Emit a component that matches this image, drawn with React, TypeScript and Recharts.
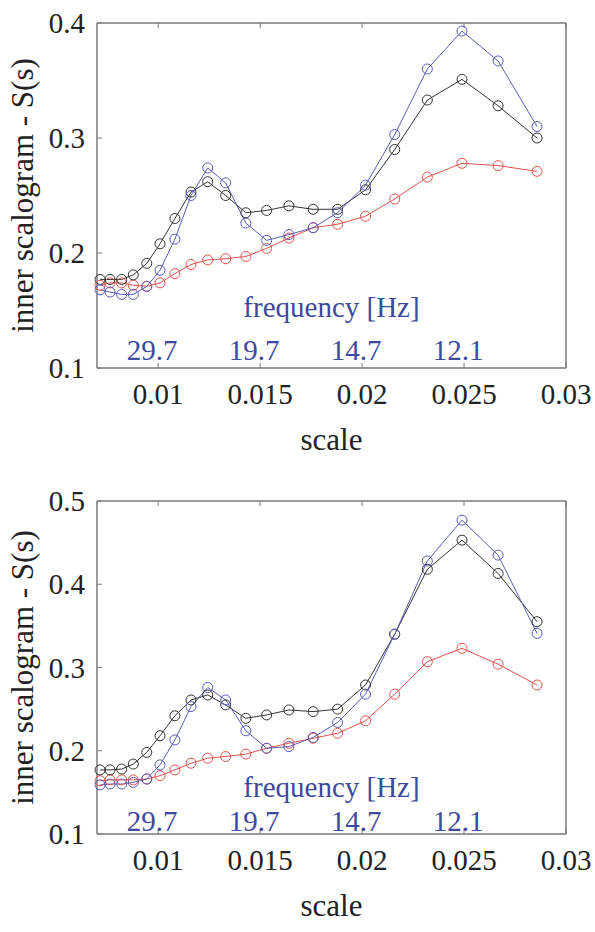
import React from "react"
import { LineChart, Line, XAxis, YAxis } from "recharts"

// scale values (x) shared by all curves
const scales = [
  0.00715, 0.00764, 0.00821, 0.00878, 0.00944, 0.01009, 0.01082, 0.01161, 0.01243, 0.01331, 0.0143,
  0.01532, 0.01641, 0.0176, 0.0188, 0.02017, 0.0216, 0.0232, 0.0249, 0.02667, 0.02858,
]

// top panel
const topBlack = [
  0.177, 0.177, 0.177, 0.181, 0.191, 0.208, 0.23, 0.253, 0.262, 0.25, 0.235,
  0.237, 0.241, 0.238, 0.238, 0.255, 0.29, 0.333, 0.351, 0.328, 0.3,
]
const topBlue = [
  0.168, 0.166, 0.164, 0.164, 0.171, 0.185, 0.212, 0.25, 0.274, 0.261, 0.226,
  0.211, 0.216, 0.222, 0.235, 0.259, 0.303, 0.36, 0.393, 0.367, 0.31,
]
const topRed = [
  0.172, 0.174, 0.174, 0.172, 0.171, 0.174, 0.182, 0.19, 0.194, 0.195, 0.197,
  0.204, 0.213, 0.222, 0.225, 0.232, 0.247, 0.266, 0.278, 0.276, 0.271,
]

// bottom panel
const botBlack = [
  0.177, 0.177, 0.178, 0.184, 0.198, 0.218, 0.242, 0.261, 0.267, 0.255, 0.239,
  0.243, 0.249, 0.247, 0.25, 0.279, 0.34, 0.418, 0.453, 0.413, 0.355,
]
const botBlue = [
  0.159, 0.16, 0.16, 0.162, 0.166, 0.183, 0.213, 0.253, 0.276, 0.261, 0.224,
  0.203, 0.205, 0.216, 0.234, 0.268, 0.34, 0.428, 0.477, 0.435, 0.341,
]
const botRed = [
  0.164, 0.165, 0.165, 0.165, 0.166, 0.17, 0.177, 0.185, 0.191, 0.193, 0.196,
  0.203, 0.209, 0.215, 0.221, 0.236, 0.268, 0.307, 0.323, 0.304, 0.279,
]

const xTicks = [0.01, 0.015, 0.02, 0.025, 0.03]
const xTickLabels = ["0.01", "0.015", "0.02", "0.025", "0.03"]
const freqLabels = ["29.7", "19.7", "14.7", "12.1", ""]
const topYTicks = [0.1, 0.2, 0.3, 0.4]
const botYTicks = [0.1, 0.2, 0.3, 0.4, 0.5]

const FONT = "Times New Roman, Liberation Serif, DejaVu Serif, serif"
const FRAME = "#7a7a7a"
const BLACK = "#333333"
const BLUE = "#5b5bb8"
const RED = "#e0524f"
const TEXT_BLUE = "#3e4a9e"

const W = 595
const H = 466
const LEFT = 97
const RIGHT = 29
const BOTTOM = 98

const build = (black: number[], blue: number[], red: number[]) =>
  scales.map((s, i) => ({ s, black: black[i], blue: blue[i], red: red[i] }))

const XTick = ({ x, y, index, freqY }: any) => (
  <g style={{ fontFamily: FONT }}>
    <text x={x} y={y + 36} textAnchor="middle" fontSize={29} fill="#222" style={{ fontFamily: FONT }}>
      {xTickLabels[index]}
    </text>
    {freqLabels[index] && (
      <text x={x - 6} y={y - freqY} textAnchor="middle" fontSize={29} fill={TEXT_BLUE} style={{ fontFamily: FONT }}>
        {freqLabels[index]}
      </text>
    )}
  </g>
)

const YTick = ({ x, y, payload }: any) => (
  <text x={x} y={y + 10} textAnchor="end" fontSize={29} fill="#222" style={{ fontFamily: FONT }}>
    {payload.value.toFixed(1)}
  </text>
)

type PanelProps = {
  top: number
  plotTop: number
  domainMax: number
  yTicks: number[]
  black: number[]
  blue: number[]
  red: number[]
  freqY: number
  freqTitleY: number
}

const Panel = ({ top, plotTop, domainMax, yTicks, black, blue, red, freqY, freqTitleY }: PanelProps) => {
  const data = build(black, blue, red)
  const plotBottom = H - BOTTOM
  return (
    <div style={{ position: "absolute", left: 0, top, width: W, height: H }}>
      <LineChart
        width={W}
        height={H}
        data={data}
        margin={{ top: plotTop - 1, right: RIGHT - 1, left: 0, bottom: 0 }}
        style={{ fontFamily: FONT }}
      >
        <XAxis
          dataKey="s"
          type="number"
          domain={[0.007, 0.03]}
          ticks={xTicks}
          height={BOTTOM}
          tickSize={-5}
          tickMargin={5}
          axisLine={{ stroke: FRAME, strokeWidth: 1.5 }}
          tickLine={{ stroke: FRAME }}
          tick={<XTick freqY={freqY} />}
          interval={0}
          label={{
            content: ({ viewBox }: any) => (
              <text
                x={viewBox.x + viewBox.width / 2}
                y={plotBottom + 82}
                textAnchor="middle"
                fontSize={31}
                fill="#222"
                style={{ fontFamily: FONT }}
              >
                scale
              </text>
            ),
          }}
        />
        <XAxis
          xAxisId="top"
          dataKey="s"
          type="number"
          orientation="top"
          domain={[0.007, 0.03]}
          ticks={xTicks}
          height={1}
          tickSize={-5}
          axisLine={{ stroke: FRAME, strokeWidth: 1.5 }}
          tickLine={{ stroke: FRAME }}
          tickFormatter={() => ""}
        />
        <YAxis
          type="number"
          domain={[0.1, domainMax]}
          ticks={yTicks}
          width={LEFT}
          tickSize={-5}
          tickMargin={17}
          axisLine={{ stroke: FRAME, strokeWidth: 1.5 }}
          tickLine={{ stroke: FRAME }}
          tick={<YTick />}
          interval={0}
          label={{
            content: ({ viewBox }: any) => {
              const cy = viewBox.y + viewBox.height / 2
              return (
                <text
                  x={33}
                  y={cy}
                  transform={`rotate(-90, 33, ${cy})`}
                  textAnchor="middle"
                  fontSize={31}
                  fill="#222"
                  style={{ fontFamily: FONT }}
                >
                  inner scalogram - S(s)
                </text>
              )
            },
          }}
        />
        <YAxis
          yAxisId="right"
          orientation="right"
          type="number"
          domain={[0.1, domainMax]}
          ticks={yTicks}
          width={1}
          tickSize={-5}
          axisLine={{ stroke: FRAME, strokeWidth: 1.5 }}
          tickLine={{ stroke: FRAME }}
          tickFormatter={() => ""}
        />
        <Line
          dataKey="red"
          stroke={RED}
          strokeWidth={1}
          dot={{ r: 5, fill: "none", stroke: RED, strokeWidth: 1 }}
          isAnimationActive={false}
        />
        <Line
          dataKey="black"
          stroke={BLACK}
          strokeWidth={1}
          dot={{ r: 5, fill: "none", stroke: BLACK, strokeWidth: 1 }}
          isAnimationActive={false}
        />
        <Line
          dataKey="blue"
          stroke={BLUE}
          strokeWidth={1}
          dot={{ r: 5, fill: "none", stroke: BLUE, strokeWidth: 1 }}
          isAnimationActive={false}
        />
      </LineChart>
      <div
        style={{
          position: "absolute",
          left: LEFT,
          width: W - LEFT - RIGHT,
          top: plotBottom - freqTitleY - 28,
          textAlign: "center",
          fontFamily: FONT,
          fontSize: 29,
          lineHeight: "36px",
          color: TEXT_BLUE,
        }}
      >
        frequency [Hz]
      </div>
    </div>
  )
}

export default function App() {
  return (
    <div style={{ position: "absolute", left: 0, top: 0, width: W, height: 932, background: "#fff" }}>
      <Panel
        top={0}
        plotTop={23}
        domainMax={0.4}
        yTicks={topYTicks}
        black={topBlack}
        blue={topBlue}
        red={topRed}
        freqY={8}
        freqTitleY={51}
      />
      <Panel
        top={466}
        plotTop={35}
        domainMax={0.5}
        yTicks={botYTicks}
        black={botBlack}
        blue={botBlue}
        red={botRed}
        freqY={3}
        freqTitleY={37}
      />
    </div>
  )
}
